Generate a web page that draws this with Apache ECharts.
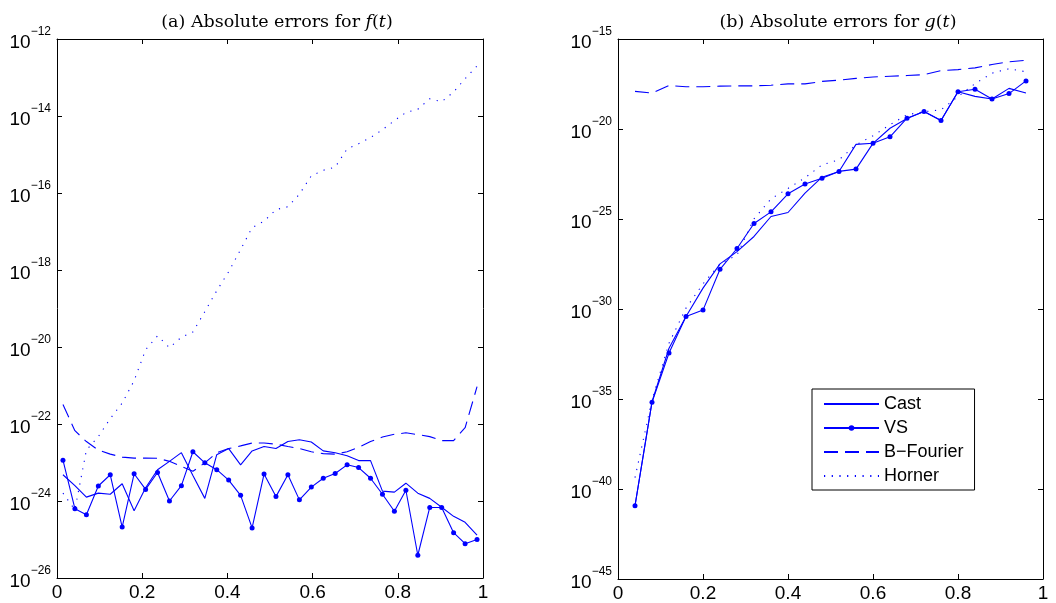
<!DOCTYPE html>
<html>
<head>
<meta charset="utf-8">
<script src="https://cdn.jsdelivr.net/npm/echarts@6/dist/echarts.min.js"></script>
<style>
  html, body { margin: 0; padding: 0; background: #ffffff; }
  #chart { width: 1056px; height: 603px; }
</style>
</head>
<body>
<div id="chart"></div>
<script>
// Sample points for f(t): 36 nodes on (0, 1)
const tF = [0.014, 0.042, 0.069, 0.097, 0.125, 0.153, 0.181, 0.208, 0.236, 0.264,
            0.292, 0.319, 0.347, 0.375, 0.403, 0.431, 0.458, 0.486, 0.514, 0.542,
            0.569, 0.597, 0.625, 0.653, 0.681, 0.708, 0.736, 0.764, 0.792, 0.819,
            0.847, 0.875, 0.903, 0.931, 0.958, 0.986];

const castF = [4.8e-24, 2.5e-24, 1.26e-24, 1.6e-24, 1.5e-24, 2.8e-24, 5.6e-25, 2.2e-24, 6.5e-24, 1.07e-23,
               1.8e-23, 4.6e-24, 1.17e-24, 1.6e-23, 2.3e-23, 8.7e-24, 2.0e-23, 2.6e-23, 2.3e-23, 3.5e-23,
               3.9e-23, 3.4e-23, 2.0e-23, 1.8e-23, 1.5e-23, 1.12e-23, 1.12e-23, 1.8e-24, 1.7e-24, 2.9e-24,
               1.6e-24, 1.17e-24, 6.9e-25, 4.0e-25, 2.8e-25, 1.3e-25];

const vsF = [1.15e-23, 6.3e-25, 4.4e-25, 2.45e-24, 4.8e-24, 2.1e-25, 5.1e-24, 2.0e-24, 5.5e-24, 1.0e-24,
             2.5e-24, 1.9e-23, 9.8e-24, 6.5e-24, 3.5e-24, 1.4e-24, 2.0e-25, 5.0e-24, 1.3e-24, 4.8e-24,
             1.07e-24, 2.3e-24, 3.9e-24, 5.2e-24, 8.7e-24, 7.4e-24, 3.9e-24, 1.5e-24, 5.4e-25, 1.9e-24,
             3.9e-26, 6.8e-25, 6.8e-25, 1.5e-25, 7.8e-26, 1.0e-25];

const bFourierF = [3.2e-22, 6.7e-23, 3.5e-23, 2.1e-23, 1.65e-23, 1.38e-23, 1.3e-23, 1.3e-23, 1.29e-23, 1.07e-23,
                   7.9e-24, 5.9e-24, 9.8e-24, 1.8e-23, 2.3e-23, 2.7e-23, 3.2e-23, 3.2e-23, 3.0e-23, 2.6e-23,
                   2.3e-23, 1.9e-23, 1.7e-23, 1.65e-23, 1.9e-23, 2.5e-23, 3.5e-23, 4.6e-23, 5.4e-23, 5.9e-23,
                   5.3e-23, 4.7e-23, 3.7e-23, 3.7e-23, 8.0e-23, 9.3e-22];

const hornerF = [1.6e-24, 5.9e-25, 2.1e-23, 4.7e-23, 1.38e-22, 3.5e-22, 1.33e-21, 8.5e-21, 1.95e-20, 9.6e-21,
                 1.8e-20, 2.45e-20, 8.3e-20, 2.9e-19, 9.0e-19, 3.4e-18, 1.26e-17, 1.85e-17, 3.7e-17, 4.4e-17,
                 9.3e-17, 2.8e-16, 3.9e-16, 4.7e-16, 1.4e-15, 1.9e-15, 2.75e-15, 4.4e-15, 7.6e-15, 1.23e-14,
                 1.5e-14, 2.8e-14, 2.35e-14, 4.2e-14, 9.3e-14, 2.0e-13];

// Sample points for g(t): 24 nodes
const tG = [0.04, 0.08, 0.12, 0.16, 0.20, 0.24, 0.28, 0.32, 0.36, 0.40, 0.44, 0.48,
            0.52, 0.56, 0.60, 0.64, 0.68, 0.72, 0.76, 0.80, 0.84, 0.88, 0.92, 0.96];

const castG = [1.2e-41, 7.0e-36, 6.6e-33, 3.8e-31, 1.45e-29, 3.2e-28, 1.55e-27, 1.07e-26, 1.38e-25, 2.3e-25,
               2.75e-24, 2.1e-23, 4.4e-23, 1.4e-21, 1.6e-21, 1.1e-20, 3.8e-20, 9.3e-20, 3.0e-20, 1.17e-18,
               6.5e-19, 4.6e-19, 1.8e-18, 1.0e-18];

const vsG = [1.17e-41, 6.6e-36, 3.6e-33, 3.8e-31, 8.7e-31, 1.6e-28, 2.3e-27, 5.6e-26, 2.5e-25, 2.5e-24,
             8.7e-24, 1.86e-23, 4.4e-23, 5.9e-23, 1.6e-21, 3.7e-21, 4.0e-20, 9.3e-20, 3.0e-20, 1.17e-18,
             1.6e-18, 4.6e-19, 9.3e-19, 4.7e-18];

const bFourierG = [1.23e-18, 1.0e-18, 2.6e-18, 2.24e-18, 2.24e-18, 2.4e-18, 2.5e-18, 2.5e-18, 2.7e-18, 3.2e-18,
                   3.2e-18, 4.4e-18, 5.2e-18, 6.5e-18, 7.8e-18, 8.5e-18, 9.3e-18, 1.05e-17, 1.74e-17, 2.0e-17,
                   2.5e-17, 3.8e-17, 5.4e-17, 6.6e-17];

const hornerG = [4.3e-40, 8.9e-36, 1.26e-32, 1.12e-30, 2.5e-29, 3.2e-28, 1.0e-27, 1.02e-25, 1.32e-24, 5.0e-24,
                 1.95e-23, 1.02e-22, 1.95e-22, 1.32e-21, 4.2e-21, 1.74e-20, 6.2e-20, 9.1e-20, 1.17e-19, 6.3e-19,
                 3.3e-18, 1.26e-17, 2.24e-17, 1.5e-17];

const seriesNames = ['Cast', 'VS', 'B\u2212Fourier', 'Horner'];
const panelTitles = ['(a) Absolute errors for {i|f}({i|t})', '(b) Absolute errors for {i|g}({i|t})'];

// plotted y ranges and decades between ticks
const rangeF = [1e-26, 1e-12], stepF = 2;
const rangeG = [1e-45, 1e-15], stepG = 5;

const BLUE = '#0000ff';
const SANS = 'Liberation Sans, Arial, Helvetica, sans-serif';
const SERIF = 'DejaVu Serif, serif';

const plotRects = [
  { left: 57, right: 573, top: 39, bottom: 25 },
  { left: 618, right: 13, top: 39, bottom: 24 }
];

// The tick labels live on a label-only log scale that runs one tick step below
// the plotted range, so the lowest visible power of ten is an interior tick.
// Its rectangle is stretched downward by exactly that step to keep the same mapping.
function extendedRect(r, range, decades) {
  const height = 603 - r.top - r.bottom;
  const perDecade = height / (Math.log10(range[1]) - Math.log10(range[0]));
  return Object.assign({}, r, { bottom: r.bottom - perDecade * decades });
}
function extendedRange(range, decades) {
  return [range[0] / Math.pow(10, decades), range[1]];
}

function pairs(xs, ys) { return xs.map((x, i) => [x, ys[i]]); }

function powerLabel(v) {
  if (!(v > 0)) return '';
  const n = Math.round(Math.log10(v));
  return '{b|10}{e|' + (n < 0 ? '\u2212' : '') + Math.abs(n) + '}';
}

const labelRich = {
  b: { fontSize: 19, fontFamily: SANS, color: '#000', padding: [7, 0, 0, 0] },
  e: { fontSize: 12, fontFamily: SANS, color: '#000', padding: [0, 0, 14, 0] }
};

const frameLine = { show: true, onZero: false, lineStyle: { color: '#000', width: 1 } };
const frameTick = { show: true, inside: true, length: 5, lineStyle: { color: '#000' } };

function xAxes(gridIndex) {
  const common = {
    gridIndex, type: 'value', min: 0, max: 1, interval: 0.2,
    splitLine: { show: false }, axisLine: frameLine, axisTick: frameTick
  };
  return [
    Object.assign({}, common, {
      position: 'bottom',
      axisLabel: { show: true, fontSize: 19, fontFamily: SANS, color: '#000', margin: 5 }
    }),
    Object.assign({}, common, { position: 'top', axisLabel: { show: false } })
  ];
}

function yAxes(gridIndex, range, decades) {
  const common = {
    gridIndex, type: 'log', logBase: 10, min: range[0], max: range[1], interval: decades,
    splitLine: { show: false }, minorTick: { show: false },
    axisLine: frameLine, axisTick: frameTick, axisLabel: { show: false }
  };
  return [
    Object.assign({}, common, { position: 'left' }),
    Object.assign({}, common, { position: 'right' })
  ];
}

function labelXAxis(gridIndex) {
  return { gridIndex, type: 'value', min: 0, max: 1, show: false };
}
function labelYAxis(gridIndex, range, decades) {
  const ext = extendedRange(range, decades);
  return {
    gridIndex, type: 'log', logBase: 10, min: ext[0], max: ext[1], interval: decades,
    position: 'left',
    splitLine: { show: false }, minorTick: { show: false },
    axisLine: { show: false }, axisTick: { show: false },
    axisLabel: { show: true, margin: 6, formatter: powerLabel, rich: labelRich,
                 showMinLabel: true, showMaxLabel: true }
  };
}

function lineSeries(name, xi, yi, data, extra) {
  return Object.assign({
    name, type: 'line', xAxisIndex: xi, yAxisIndex: yi, data,
    symbol: 'none', showSymbol: false, smooth: false,
    lineStyle: { color: BLUE, width: 1.1 },
    itemStyle: { color: BLUE, opacity: 0 },
    z: 3
  }, extra || {});
}

const vsStyle = { symbol: 'circle', showSymbol: true, symbolSize: 5, itemStyle: { color: BLUE, opacity: 1 } };
const dashStyle = { lineStyle: { color: BLUE, width: 1.1, type: [14, 7] } };
const dotStyle = { lineStyle: { color: BLUE, width: 1.1, type: [1.2, 6.5] } };

const titleStyle = {
  fontFamily: SERIF, fontSize: 17.5, fontWeight: 'normal', color: '#000',
  rich: { i: { fontFamily: SERIF, fontSize: 17.5, fontStyle: 'italic', color: '#000' } }
};

const gridBase = { containLabel: false, outerBoundsMode: 'none' };

const option = {
  animation: false,
  backgroundColor: '#ffffff',
  title: [
    { text: panelTitles[0], left: 272, top: 8, textAlign: 'center', textStyle: titleStyle },
    { text: panelTitles[1], left: 833, top: 8, textAlign: 'center', textStyle: titleStyle }
  ],
  legend: {
    data: seriesNames,
    orient: 'vertical',
    left: 812, top: 389,
    itemWidth: 55, itemHeight: 7, itemGap: 6,
    padding: [6, 11, 5, 11],
    backgroundColor: '#ffffff',
    borderColor: '#000', borderWidth: 1, borderRadius: 0,
    textStyle: { fontSize: 18, fontFamily: SANS, color: '#000' }
  },
  grid: [
    Object.assign({}, gridBase, plotRects[0]),
    Object.assign({}, gridBase, plotRects[1]),
    Object.assign({}, gridBase, extendedRect(plotRects[0], rangeF, stepF)),
    Object.assign({}, gridBase, extendedRect(plotRects[1], rangeG, stepG))
  ],
  xAxis: xAxes(0).concat(xAxes(1), [labelXAxis(2), labelXAxis(3)]),
  yAxis: yAxes(0, rangeF, stepF).concat(yAxes(1, rangeG, stepG),
         [labelYAxis(2, rangeF, stepF), labelYAxis(3, rangeG, stepG)]),
  series: [
    lineSeries(seriesNames[0], 0, 0, pairs(tF, castF)),
    lineSeries(seriesNames[1], 0, 0, pairs(tF, vsF), vsStyle),
    lineSeries(seriesNames[2], 0, 0, pairs(tF, bFourierF), dashStyle),
    lineSeries(seriesNames[3], 0, 0, pairs(tF, hornerF), dotStyle),
    lineSeries(seriesNames[0], 2, 2, pairs(tG, castG)),
    lineSeries(seriesNames[1], 2, 2, pairs(tG, vsG), vsStyle),
    lineSeries(seriesNames[2], 2, 2, pairs(tG, bFourierG), dashStyle),
    lineSeries(seriesNames[3], 2, 2, pairs(tG, hornerG), dotStyle)
  ]
};

const chart = echarts.init(document.getElementById('chart'), null, { renderer: 'canvas' });
chart.setOption(option);
</script>
</body>
</html>
